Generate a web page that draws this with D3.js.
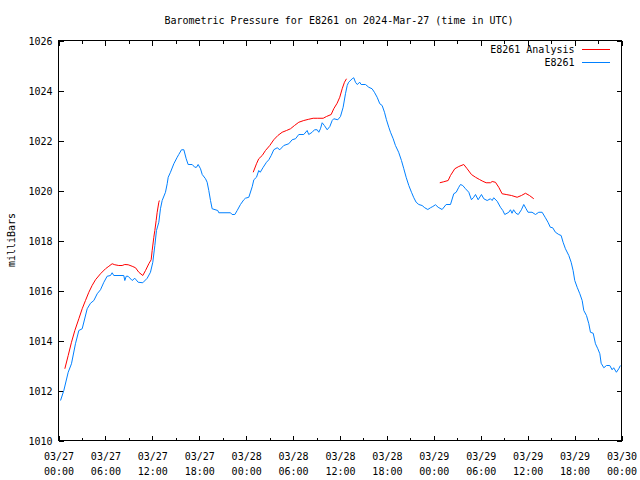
<!DOCTYPE html>
<html>
<head>
<meta charset="utf-8">
<script src="https://cdn.jsdelivr.net/npm/d3@7"></script>
<style>
  html, body { margin: 0; padding: 0; background: #fff; }
  svg { display: block; }
  text { font-family: "DejaVu Sans Mono", "Liberation Mono", monospace; font-size: 10px; fill: #000; }
</style>
</head>
<body>
<svg id="chart" width="640" height="480"></svg>
<script>
// ---- data (hours since 2024-03-27 00:00 UTC, pressure in mbar) ----
const stationHours = [0.26,0.68,1.24,1.66,2.17,2.6,3.03,3.67,4.09,4.52,4.95,5.37,5.8,6.22,6.65,6.86,7.07,8.35,8.48,8.66,8.9,9.42,9.76,10.19,10.78,11.34,11.76,12.06,12.32,12.53,12.83,13.04,13.26,13.68,13.9,14.03,14.32,14.75,15.18,15.38,15.73,16.03,16.33,16.58,17.1,17.43,17.65,17.86,18.16,18.38,18.8,19.01,19.22,19.44,19.65,20.37,20.5,22.0,22.2,22.55,22.85,23.27,23.7,23.9,24.34,24.77,24.98,25.32,25.61,25.8,26.18,26.6,26.9,27.2,27.53,27.97,28.3,28.81,29.45,29.88,30.31,30.73,31.37,31.8,32.0,32.44,32.74,33.08,33.29,33.5,33.72,34.0,34.36,34.7,35.0,35.2,35.72,36.06,36.4,36.7,36.92,37.1,37.56,37.76,37.98,38.2,38.53,38.7,39.26,39.68,40.1,40.4,40.75,41.09,41.39,41.69,41.94,42.24,42.46,42.8,43.09,43.5,43.86,44.16,44.46,44.8,45.14,45.44,45.74,46.08,46.5,46.84,47.23,47.57,47.87,48.21,48.55,49.06,49.57,50.13,50.55,50.86,51.19,51.41,51.7,52.05,52.47,52.81,53.1,53.33,53.67,54.09,54.39,54.82,55.24,55.46,55.66,56.1,56.52,56.82,57.07,57.59,57.8,58.0,58.2,58.5,58.8,59.2,59.5,59.8,60.05,60.56,61.0,61.42,61.85,62.27,62.6,62.9,63.2,63.55,63.98,64.28,64.53,64.83,65.26,65.56,65.81,66.02,66.33,66.67,66.97,67.18,67.52,67.82,68.03,68.38,68.67,68.97,69.23,69.4,69.74,70.08,70.5,70.8,71.0,71.35,71.65,71.86];
const stationPressure = [1011.6,1012.0,1012.73,1013.07,1013.87,1014.4,1014.47,1015.27,1015.49,1015.6,1015.87,1016.03,1016.33,1016.57,1016.6,1016.71,1016.6,1016.6,1016.4,1016.57,1016.57,1016.4,1016.49,1016.33,1016.31,1016.49,1016.73,1017.13,1017.8,1018.4,1018.73,1019.27,1019.6,1019.93,1020.27,1020.53,1020.73,1021.07,1021.33,1021.44,1021.63,1021.63,1021.27,1021.04,1021.04,1020.93,1020.93,1021.04,1020.87,1020.64,1020.47,1020.33,1020.0,1019.6,1019.27,1019.2,1019.11,1019.11,1019.04,1019.04,1019.2,1019.44,1019.63,1019.69,1019.73,1020.15,1020.43,1020.53,1020.8,1020.73,1020.93,1021.13,1021.23,1021.4,1021.63,1021.71,1021.63,1021.8,1021.87,1022.03,1022.07,1022.24,1022.24,1022.4,1022.24,1022.33,1022.43,1022.43,1022.33,1022.47,1022.71,1022.6,1022.43,1022.56,1022.8,1022.87,1022.83,1022.96,1023.33,1023.87,1024.2,1024.33,1024.47,1024.51,1024.33,1024.24,1024.33,1024.24,1024.24,1024.13,1024.07,1023.93,1023.73,1023.47,1023.4,1023.13,1022.83,1022.53,1022.33,1022.07,1021.8,1021.53,1021.2,1020.87,1020.53,1020.2,1019.93,1019.71,1019.53,1019.44,1019.4,1019.31,1019.24,1019.31,1019.36,1019.43,1019.33,1019.24,1019.44,1019.44,1019.87,1019.93,1020.13,1020.24,1020.2,1020.07,1019.93,1019.63,1019.73,1019.84,1019.63,1019.84,1019.67,1019.6,1019.67,1019.6,1019.71,1019.57,1019.33,1019.2,1019.04,1019.13,1019.23,1019.09,1019.23,1019.09,1019.04,1019.23,1019.44,1019.27,1019.13,1019.13,1019.04,1019.13,1019.13,1018.91,1018.73,1018.53,1018.51,1018.33,1018.24,1018.2,1017.93,1017.67,1017.4,1017.13,1016.8,1016.4,1016.13,1015.87,1015.6,1015.2,1015.0,1014.67,1014.33,1014.29,1013.87,1013.67,1013.47,1013.09,1012.91,1013.0,1013.0,1012.83,1012.91,1012.73,1012.87,1013.0];

// analysis series, null = gap between segments
const analysisHours = [0.81,1.24,1.66,2.09,2.6,3.03,3.45,3.88,4.3,4.73,5.37,6.01,6.44,6.86,7.2,7.71,8.14,8.48,8.91,9.42,9.85,10.27,10.78,11.13,11.55,11.85,11.98,12.19,12.32,12.49,12.62,12.83,12.9,
  null,
  24.9,25.32,25.61,26.05,26.47,27.02,27.53,28.05,28.6,29.16,29.67,30.18,30.73,31.37,32.0,32.57,33.16,33.85,34.27,34.87,35.2,35.63,35.97,36.28,36.57,36.83,
  null,
  48.76,49.27,49.83,50.13,50.68,51.19,51.83,52.26,52.81,53.33,53.84,54.26,54.69,55.24,55.46,55.88,56.3,56.73,57.25,57.93,58.65,59.2,59.72,60.23,60.78];
const analysisPressure = [1012.87,1013.4,1013.93,1014.4,1014.87,1015.27,1015.6,1015.93,1016.2,1016.43,1016.67,1016.87,1016.97,1017.07,1017.03,1017.0,1017.0,1017.04,1017.03,1016.97,1016.91,1016.73,1016.6,1016.8,1017.07,1017.23,1017.6,1018.13,1018.4,1018.8,1019.13,1019.53,1019.6,
  null,
  1020.73,1021.07,1021.27,1021.4,1021.6,1021.8,1022.03,1022.2,1022.33,1022.4,1022.47,1022.6,1022.73,1022.8,1022.85,1022.89,1022.89,1022.89,1022.96,1023.04,1023.27,1023.49,1023.73,1024.07,1024.33,1024.47,
  null,
  1020.31,1020.35,1020.4,1020.6,1020.87,1020.96,1021.04,1020.87,1020.64,1020.53,1020.44,1020.37,1020.31,1020.31,1020.36,1020.33,1020.13,1019.87,1019.84,1019.8,1019.73,1019.8,1019.89,1019.8,1019.67];

const yTicks = [1010,1012,1014,1016,1018,1020,1022,1024,1026];
const seriesNames = ["E8261 Analysis", "E8261"];
const seriesColors = ["#ff0000", "#0080ff"];
const titleText = "Barometric Pressure for E8261 on 2024-Mar-27 (time in UTC)";
const yLabel = "milliBars";

(function () {
// ---- layout ----
const mLeft = 58, mRight = 621, mTop = 40, mBottom = 440;
const t0 = Date.UTC(2024, 2, 27, 0, 0);
const t1 = Date.UTC(2024, 2, 30, 0, 0);
const toDate = h => new Date(t0 + h * 3600000);

const x = d3.scaleUtc().domain([new Date(t0), new Date(t1)]).range([mLeft, mRight]);
const y = d3.scaleLinear().domain([1010, 1026]).range([mBottom, mTop]);

const svg = d3.select("#chart");
const g = svg.append("g").attr("transform", "translate(0.5,0.5)");

const majorTicks = d3.utcHour.every(6).range(new Date(t0), new Date(t1 + 1));
const minorTicks = d3.utcHour.every(3).range(new Date(t0), new Date(t1 + 1)).filter(d => d.getUTCHours() % 6 !== 0);

function styleAxis(sel) {
  sel.select(".domain").remove();
  sel.selectAll("line").attr("stroke", "#000").attr("shape-rendering", "crispEdges");
}

// bottom axis with two-line labels
const bottomAxis = g.append("g").attr("transform", `translate(0,${mBottom})`)
  .call(d3.axisBottom(x).tickValues(majorTicks).tickSize(-5).tickFormat(""));
styleAxis(bottomAxis);
bottomAxis.selectAll(".tick text").remove();
bottomAxis.selectAll(".tick").each(function(d) {
  const t = d3.select(this).append("text").attr("text-anchor", "middle")
    .attr("font-family", "DejaVu Sans Mono, monospace").attr("font-size", 10).attr("fill", "#000");
  t.append("tspan").attr("x", 0).attr("y", 19).text(d3.utcFormat("%m/%d")(d));
  t.append("tspan").attr("x", 0).attr("y", 34).text(d3.utcFormat("%H:%M")(d));
});
const bottomMinor = g.append("g").attr("transform", `translate(0,${mBottom})`)
  .call(d3.axisBottom(x).tickValues(minorTicks).tickSize(-3).tickFormat(""));
styleAxis(bottomMinor);

const topAxis = g.append("g").attr("transform", `translate(0,${mTop})`)
  .call(d3.axisTop(x).tickValues(majorTicks).tickSize(-5).tickFormat(""));
styleAxis(topAxis);
const topMinor = g.append("g").attr("transform", `translate(0,${mTop})`)
  .call(d3.axisTop(x).tickValues(minorTicks).tickSize(-3).tickFormat(""));
styleAxis(topMinor);

const leftAxis = g.append("g").attr("transform", `translate(${mLeft},0)`)
  .call(d3.axisLeft(y).tickValues(yTicks).tickSize(-5).tickPadding(6).tickFormat(d3.format("d")));
styleAxis(leftAxis);
leftAxis.selectAll("text").attr("font-family", "DejaVu Sans Mono, monospace").attr("font-size", 10)
  .attr("fill", "#000").attr("dy", "0.35em").attr("x", -6);

const rightAxis = g.append("g").attr("transform", `translate(${mRight},0)`)
  .call(d3.axisRight(y).tickValues(yTicks).tickSize(-5).tickFormat(""));
styleAxis(rightAxis);

// frame
g.append("rect").attr("x", mLeft).attr("y", mTop).attr("width", mRight - mLeft).attr("height", mBottom - mTop)
  .attr("fill", "none").attr("stroke", "#000").attr("shape-rendering", "crispEdges");

// lines
const stationData = stationHours.map((h, i) => ({ t: toDate(h), v: stationPressure[i] }));
const analysisData = analysisHours.map((h, i) => ({ t: h === null ? null : toDate(h), v: analysisPressure[i] }));
const line = d3.line().defined(d => d.t !== null && d.v !== null).x(d => x(d.t)).y(d => y(d.v));

g.append("path").datum(analysisData).attr("d", line)
  .attr("fill", "none").attr("stroke", seriesColors[0]).attr("stroke-width", 1);
g.append("path").datum(stationData).attr("d", line)
  .attr("fill", "none").attr("stroke", seriesColors[1]).attr("stroke-width", 1);

// legend
seriesNames.forEach((name, i) => {
  const ly = 49 + i * 13;
  g.append("text").attr("x", 574).attr("y", ly).attr("dy", "0.35em").attr("text-anchor", "end").text(name);
  g.append("line").attr("x1", 581).attr("x2", 609).attr("y1", ly).attr("y2", ly)
    .attr("stroke", seriesColors[i]).attr("shape-rendering", "crispEdges");
});

// title & y label
svg.append("text").attr("x", 339).attr("y", 20).attr("dy", "0.35em").attr("text-anchor", "middle").text(titleText);
svg.append("text").attr("transform", "translate(11,240) rotate(-90)").attr("dy", "0.35em").attr("text-anchor", "middle").text(yLabel);
})();
</script>
</body>
</html>
